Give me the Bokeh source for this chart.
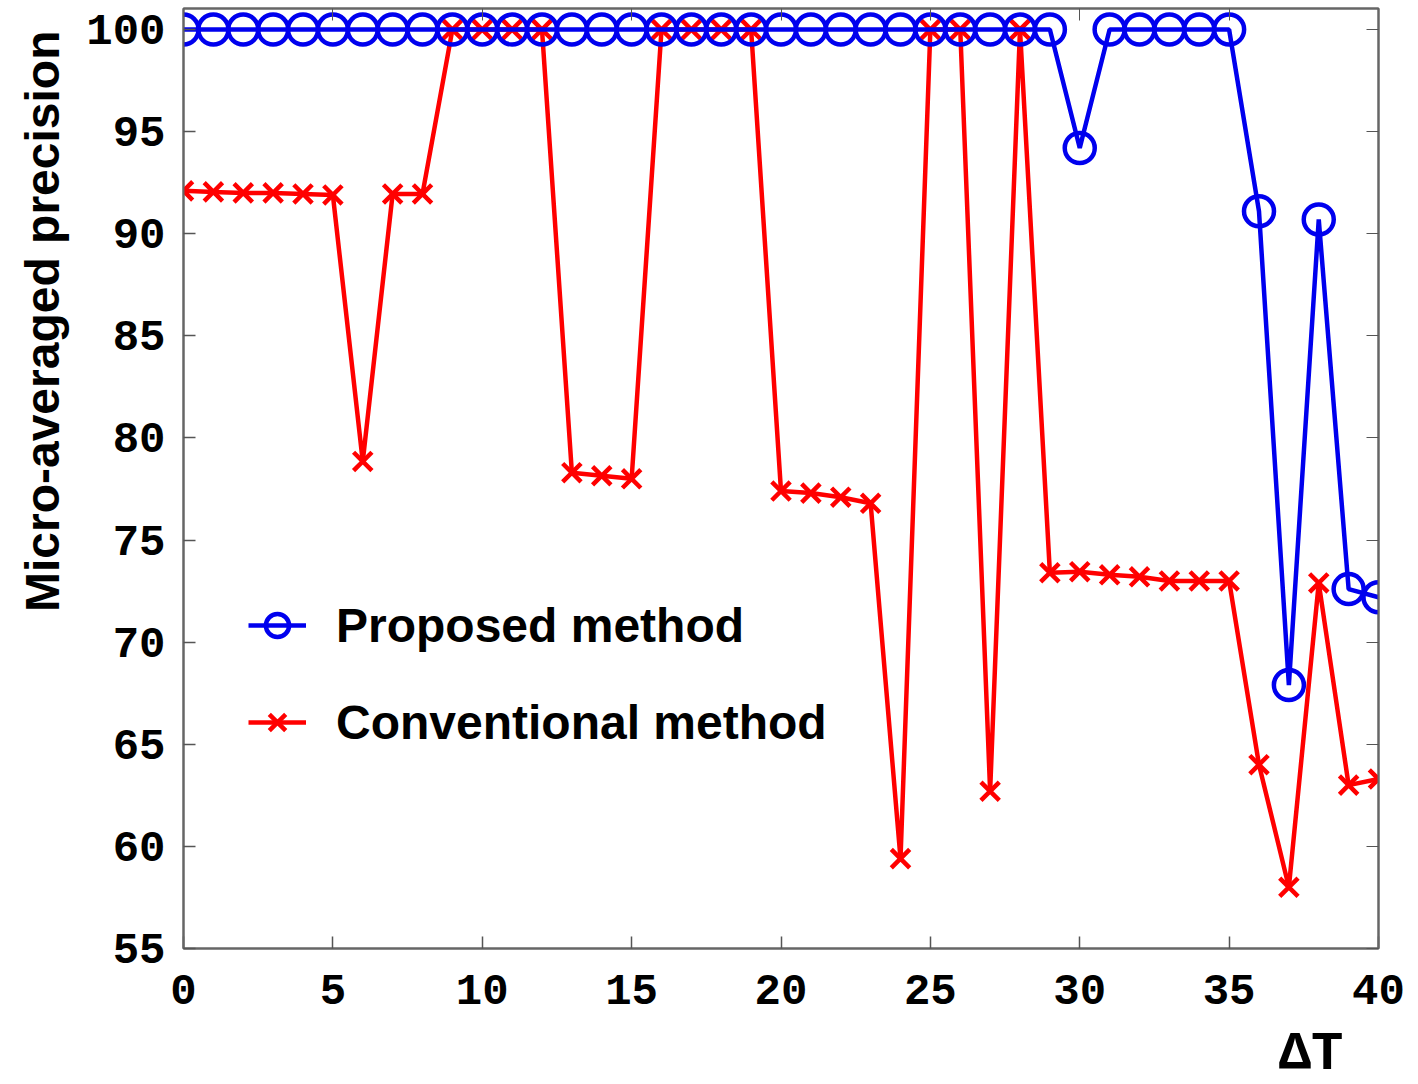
from bokeh.plotting import figure
from bokeh.models import LinearAxis, Legend, LegendItem, FixedTicker, Range1d, Title
from bokeh.embed import file_html
from bokeh.resources import INLINE

delta_t = list(range(0, 41))
proposed = [100, 100, 100, 100, 100, 100, 100, 100, 100, 100,
            100, 100, 100, 100, 100, 100, 100, 100, 100, 100,
            100, 100, 100, 100, 100, 100, 100, 100, 100, 100,
            94.2, 100, 100, 100, 100, 100, 91.1, 67.9, 90.7, 72.6, 72.2]
conventional = [92.1, 92.05, 92.0, 92.0, 91.95, 91.9, 78.85, 91.95, 91.95, 100,
                100, 100, 100, 78.3, 78.15, 78.0, 100, 100, 100, 100,
                77.4, 77.3, 77.1, 76.8, 59.4, 100, 100, 62.7, 100, 73.4,
                73.45, 73.3, 73.2, 73.0, 73.0, 73.0, 64.0, 58.0, 72.9, 63.0, 63.3]
x_ticks = [0, 5, 10, 15, 20, 25, 30, 35, 40]
y_ticks = [55, 60, 65, 70, 75, 80, 85, 90, 95, 100]
legend_labels = ["Proposed method", "Conventional method"]
y_title = "Micro-averaged precision"
x_title = "\u0394T"

p = figure(frame_width=1195, frame_height=940, output_backend="svg", toolbar_location=None,
           x_range=Range1d(0, 40), y_range=Range1d(55, 101.03),
           min_border_left=183, min_border_right=40, min_border_top=8, min_border_bottom=136,
           background_fill_color="white", border_fill_color="white")
p.grid.visible = False
p.outline_line_color = "#666666"
p.outline_line_width = 2

for ax in [p.xaxis[0], p.yaxis[0]]:
    ax.major_label_text_font = "Liberation Mono"
    ax.major_label_text_font_style = "bold"
    ax.major_label_text_font_size = "44px"
    ax.major_label_text_color = "black"
    ax.major_tick_in = 12
    ax.major_tick_out = 0
    ax.minor_tick_line_color = None
    ax.major_tick_line_color = "#555555"
    ax.major_tick_line_width = 1.5
    ax.axis_line_color = "#666666"
    ax.axis_line_width = 2
p.xaxis[0].ticker = FixedTicker(ticks=x_ticks)
p.yaxis[0].ticker = FixedTicker(ticks=y_ticks)
p.xaxis[0].major_label_standoff = 26
p.yaxis[0].major_label_standoff = 18

top = LinearAxis(ticker=FixedTicker(ticks=x_ticks), major_label_text_font_size="0px",
                 major_tick_in=12, major_tick_out=0, minor_tick_line_color=None,
                 major_tick_line_color="#555555", axis_line_color="#666666", axis_line_width=2)
right = LinearAxis(ticker=FixedTicker(ticks=y_ticks), major_label_text_font_size="0px",
                   major_tick_in=12, major_tick_out=0, minor_tick_line_color=None,
                   major_tick_line_color="#555555", axis_line_color="#666666", axis_line_width=2)
p.add_layout(top, "above")
p.add_layout(right, "right")

r_line = p.line(delta_t, conventional, line_color="#ff0000", line_width=4.5)
r_mark = p.scatter(delta_t, conventional, marker="x", size=26, line_color="#ff0000", line_width=4.5)
b_line = p.line(delta_t, proposed, line_color="#0000ee", line_width=4.5)
b_mark = p.scatter(delta_t, proposed, marker="circle", size=30, line_color="#0000ee",
                   fill_color=None, line_width=4.5)

legend = Legend(items=[LegendItem(label=legend_labels[0], renderers=[b_line, b_mark]),
                       LegendItem(label=legend_labels[1], renderers=[r_line, r_mark])],
                location=(65, 190), border_line_color=None, background_fill_alpha=0,
                label_text_font="Liberation Sans", label_text_font_style="bold",
                label_text_font_size="48px", label_text_color="black",
                glyph_width=58, glyph_height=72,
                label_height=72, label_standoff=30, spacing=25, padding=0, margin=0)
p.add_layout(legend)

yt = Title(text=y_title, align="right", offset=22, standoff=26, vertical_align="top",
           text_font="Liberation Sans", text_font_style="bold", text_font_size="48px",
           text_color="black")
p.add_layout(yt, "left")
xt = Title(text=x_title, align="right", offset=35, standoff=30, vertical_align="bottom",
           text_font="Liberation Mono", text_font_style="bold", text_font_size="54px",
           text_line_height=0.6, text_color="black")
p.add_layout(xt, "below")

open("out.html", "w").write(file_html(p, INLINE))
